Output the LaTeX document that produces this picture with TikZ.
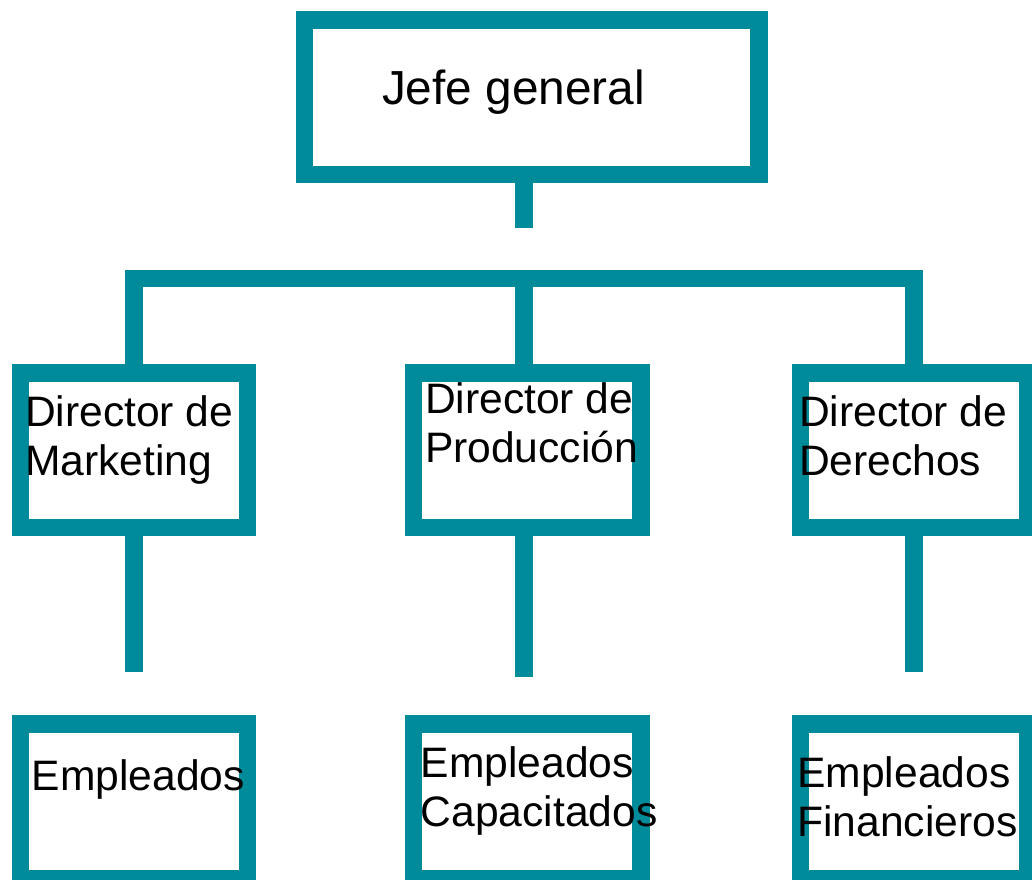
\documentclass[tikz,border=0pt]{standalone}
\usepackage{fontspec}
\setmainfont{Liberation Sans}
\definecolor{orgteal}{RGB}{0,139,155}
\begin{document}
\begin{tikzpicture}[x=1pt,y=-1pt,
  orgbox/.style={draw=orgteal, line width=17.6pt, inner sep=0pt, outer sep=0pt,
                 minimum width=227.2pt, minimum height=154.4pt},
  conn/.style={draw=orgteal, line width=17.4pt, line cap=butt, line join=miter},
  lbl/.style={anchor=base west, inner sep=0pt, outer sep=0pt, align=left,
              font=\fontsize{42.6}{49}\selectfont},
  toplbl/.style={anchor=base west, inner sep=0pt, outer sep=0pt,
              font=\fontsize{47.8}{56}\selectfont}]
\useasboundingbox (0,0) rectangle (1032,879);
\clip (0,0) rectangle (1032,879);

% boxes
\node[orgbox, minimum width=454.7pt, minimum height=154.7pt] (top) at (531.7,97.2) {};
\node[orgbox] (ml) at (133.9,450.4) {};
\node[orgbox] (mm) at (527.1,450.4) {};
\node[orgbox] (mr) at (914,450.4) {};
\node[orgbox] (bl) at (133.9,801.2) {};
\node[orgbox] (bm) at (527.1,801.2) {};
\node[orgbox] (br) at (914,801.2) {};

% connector coordinates
\coordinate (topend) at (524,227.7);
\coordinate (bus) at (524,278.7);
\coordinate (mlend) at (133.9,671.7);
\coordinate (mmend) at (524,676.7);
\coordinate (mrend) at (914,671.7);

% connectors
\draw[conn] (top.south -| topend) -- (topend);
\draw[conn] (ml.north) -- (ml.north |- bus) -- (mr.north |- bus) -- (mr.north);
\draw[conn] (bus) -- (mm.north -| bus);
\draw[conn] (ml.south) -- (mlend);
\draw[conn] (mm.south -| mmend) -- (mmend);
\draw[conn] (mr.south) -- (mrend);

% labels (base anchor = baseline of last line)
\node[toplbl] (ttop) at (382,104) {Jefe general};
\node[lbl] (tml) at (25,475) {Director de\\Marketing};
\node[lbl] (tmm) at (425,462.7) {Director de\\Producción};
\node[lbl] (tmr) at (799,475) {Director de\\Derechos};
\node[lbl] (tbl) at (31.8,790.7) {Empleados};
\node[lbl] (tbm) at (420.8,826) {Empleados\\Capacitados};
\node[lbl] (tbr) at (797.4,836) {Empleados\\Financieros};
\end{tikzpicture}
\end{document}
